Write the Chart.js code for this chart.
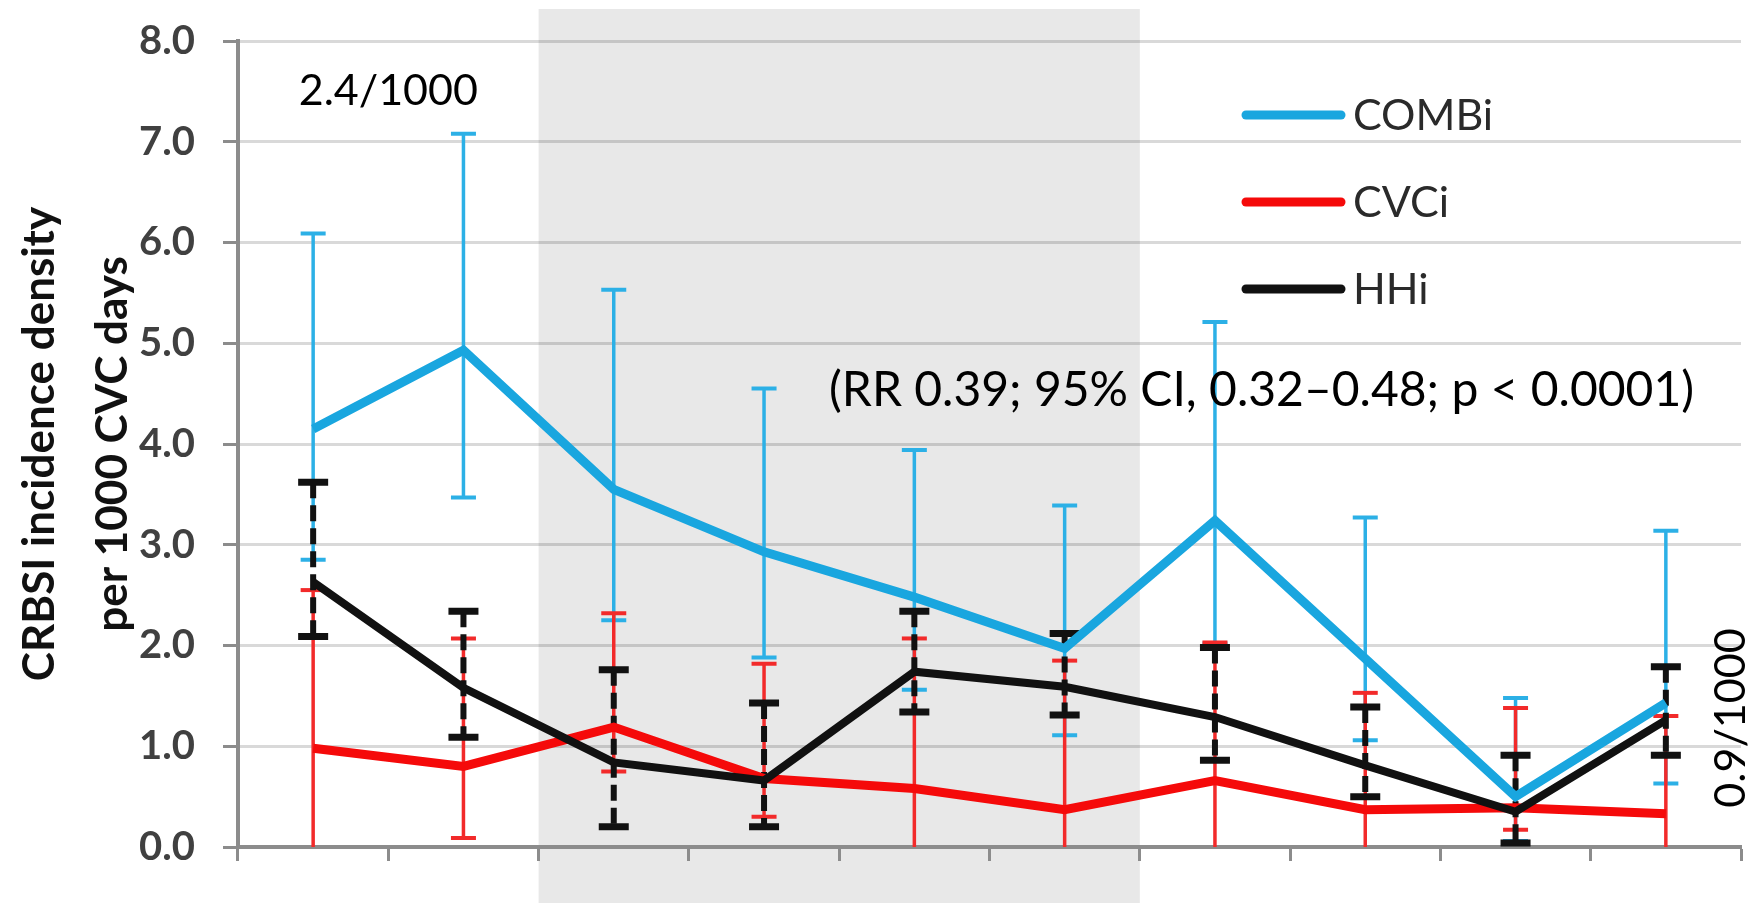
<!DOCTYPE html>
<html>
<head>
<meta charset="utf-8">
<title>CRBSI incidence density</title>
<script src="https://cdn.jsdelivr.net/npm/chart.js@4.4.1/dist/chart.umd.min.js"></script>
<style>
  html, body { margin: 0; padding: 0; background: #ffffff; }
  canvas { display: block; }
</style>
</head>
<body>
<canvas id="chart" width="1754" height="903"></canvas>
<script>
// Study periods (x categories, labels not drawn)
const periods = ['1', '2', '3', '4', '5', '6', '7', '8', '9', '10'];

// Y-axis tick labels (0.0 .. 8.0)
const yTickLabels = ['0.0', '1.0', '2.0', '3.0', '4.0', '5.0', '6.0', '7.0', '8.0'];

// COMBi: incidence density with 95% CI
const combi     = [4.15, 4.93, 3.55, 2.93, 2.48, 1.97, 3.24, 1.87, 0.50, 1.43];
const combiLow  = [2.85, 3.47, 2.25, 1.88, 1.56, 1.11, 2.02, 1.06, 0.06, 0.63];
const combiHigh = [6.09, 7.08, 5.53, 4.55, 3.94, 3.39, 5.21, 3.27, 1.48, 3.14];

// CVCi
const cvci      = [0.98, 0.80, 1.19, 0.68, 0.58, 0.37, 0.66, 0.37, 0.39, 0.33];
const cvciLow   = [0.00, 0.09, 0.75, 0.30, 0.00, 0.00, 0.00, 0.00, 0.17, 0.00];
const cvciHigh  = [2.55, 2.07, 2.32, 1.82, 2.07, 1.85, 2.03, 1.53, 1.38, 1.30];

// HHi
const hhi       = [2.63, 1.58, 0.84, 0.66, 1.74, 1.59, 1.29, 0.81, 0.35, 1.26];
const hhiLow    = [2.09, 1.09, 0.20, 0.20, 1.34, 1.31, 0.86, 0.50, 0.04, 0.91];
const hhiHigh   = [3.62, 2.34, 1.76, 1.43, 2.34, 2.12, 1.98, 1.39, 0.91, 1.79];

// Intervention period (first and last category index, shaded)
const interventionPeriods = [2, 5];

// Annotation texts
const rateBefore = '2.4/1000';
const rateAfter = '0.9/1000';
const rrText = '(RR 0.39; 95% CI, 0.32\u20130.48; p < 0.0001)';

const BLUE = '#19a6df';
const RED = '#f50a0a';
const BLACK = '#111111';
const AXIS = '#8c8c8c';
const GRID = 'rgba(0,0,0,0.15)';
const FONT = 'Lato, "Open Sans", "Liberation Sans", sans-serif';

// White background and the shaded intervention band
const backgroundPlugin = {
  id: 'background',
  beforeDraw(chart) {
    const { ctx, width, height, chartArea, scales: { x } } = chart;
    ctx.save();
    ctx.fillStyle = '#ffffff';
    ctx.fillRect(0, 0, width, height);
    const x0 = x.getPixelForValue(interventionPeriods[0] - 0.5);
    const x1 = x.getPixelForValue(interventionPeriods[1] + 0.5);
    const top = chartArea.top - 32;
    ctx.fillStyle = '#e8e8e8';
    ctx.fillRect(x0, top, x1 - x0, height - top);
    ctx.restore();
  }
};

// Confidence-interval whiskers, drawn underneath the lines
const errorBarPlugin = {
  id: 'errorBars',
  beforeDatasetsDraw(chart) {
    const { ctx, scales: { x, y } } = chart;
    const sets = [
      { low: combiLow, high: combiHigh, color: '#2cb0e6', width: 3.5, cap: 12.5, capWidth: 4, dash: [] },
      { low: cvciLow, high: cvciHigh, color: '#f22a2a', width: 3.5, cap: 12.5, capWidth: 4, dash: [] },
      { low: hhiLow, high: hhiHigh, color: BLACK, width: 6, cap: 15, capWidth: 7, dash: [16, 7] }
    ];
    ctx.save();
    sets.forEach(s => {
      s.low.forEach((lo, i) => {
        const px = x.getPixelForValue(i);
        const yl = y.getPixelForValue(lo);
        const yh = y.getPixelForValue(s.high[i]);
        ctx.strokeStyle = s.color;
        ctx.lineCap = 'butt';
        ctx.lineWidth = s.width;
        ctx.setLineDash(s.dash);
        ctx.beginPath();
        ctx.moveTo(px, yh);
        ctx.lineTo(px, yl);
        ctx.stroke();
        ctx.setLineDash([]);
        ctx.lineWidth = s.capWidth;
        ctx.beginPath();
        ctx.moveTo(px - s.cap, yh);
        ctx.lineTo(px + s.cap, yh);
        if (lo > 0) {
          ctx.moveTo(px - s.cap, yl);
          ctx.lineTo(px + s.cap, yl);
        }
        ctx.stroke();
      });
    });
    ctx.restore();
  }
};

// Legend stacked in the upper right of the plot and the rate annotations
const annotationPlugin = {
  id: 'annotations',
  afterDatasetsDraw(chart) {
    const { ctx, chartArea, scales: { x, y } } = chart;
    ctx.save();

    // legend
    const legendX0 = 1246, legendX1 = 1341, textX = 1353;
    const rows = [115, 202, 289];
    const legendSize = 43;
    chart.data.datasets.forEach((ds, i) => {
      ctx.strokeStyle = ds.borderColor;
      ctx.lineWidth = 9;
      ctx.lineCap = 'round';
      ctx.beginPath();
      ctx.moveTo(legendX0, rows[i]);
      ctx.lineTo(legendX1, rows[i]);
      ctx.stroke();
      ctx.fillStyle = '#2a2a2a';
      ctx.font = `${legendSize}px ${FONT}`;
      ctx.textAlign = 'left';
      ctx.textBaseline = 'alphabetic';
      ctx.fillText(ds.label, textX, rows[i] + legendSize * 0.358);
    });

    const size = 43;
    ctx.fillStyle = '#000000';
    ctx.font = `${size}px ${FONT}`;
    ctx.textBaseline = 'alphabetic';

    // pre-intervention rate
    ctx.textAlign = 'center';
    ctx.fillText(rateBefore, x.getPixelForValue(0.5), y.getPixelForValue(7.52) + size * 0.358);

    // rate ratio
    const rrSize = 48;
    ctx.font = `${rrSize}px ${FONT}`;
    ctx.fillText(rrText, x.getPixelForValue(6.31), y.getPixelForValue(4.55) + rrSize * 0.358);

    // post-intervention rate, rotated along the right edge
    ctx.font = `${size}px ${FONT}`;
    ctx.translate(chartArea.right - 11, y.getPixelForValue(1.28));
    ctx.rotate(-Math.PI / 2);
    ctx.fillText(rateAfter, 0, size * 0.358);
    ctx.restore();
  }
};

const lineStyle = {
  pointRadius: 0,
  pointHoverRadius: 0,
  tension: 0,
  fill: false,
  borderJoinStyle: 'miter',
  borderCapStyle: 'butt'
};

new Chart(document.getElementById('chart'), {
  type: 'line',
  data: {
    labels: periods,
    datasets: [
      { label: 'COMBi', data: combi, borderColor: BLUE, borderWidth: 9, order: 1, ...lineStyle },
      { label: 'CVCi', data: cvci, borderColor: RED, borderWidth: 9, order: 3, ...lineStyle },
      { label: 'HHi', data: hhi, borderColor: BLACK, borderWidth: 8, order: 2, ...lineStyle }
    ]
  },
  options: {
    responsive: false,
    animation: false,
    devicePixelRatio: 1,
    layout: { padding: { top: 41, right: 13, bottom: 42, left: 0 } },
    plugins: {
      legend: { display: false },
      tooltip: { enabled: false },
      title: { display: false }
    },
    scales: {
      x: {
        type: 'category',
        offset: true,
        grid: {
          offset: true,
          drawOnChartArea: false,
          drawTicks: true,
          tickLength: 14,
          tickWidth: 3,
          tickColor: AXIS
        },
        border: { color: AXIS, width: 4 },
        ticks: { display: false }
      },
      y: {
        min: 0,
        max: 8,
        afterFit(scale) {
          scale.width = 238;
          // the outer layout padding already leaves room for the end labels
          scale.paddingTop = 0;
          scale.paddingBottom = 0;
        },
        ticks: {
          stepSize: 1,
          padding: 28,
          color: '#404040',
          font: { family: FONT, size: 40, weight: 'bold' },
          callback: (value, index) => yTickLabels[index]
        },
        grid: {
          color: GRID,
          lineWidth: 3,
          drawTicks: true,
          tickLength: 15,
          tickWidth: 3,
          tickColor: AXIS
        },
        border: { color: AXIS, width: 4 },
        title: {
          display: true,
          text: ['CRBSI incidence density', 'per 1000 CVC days'],
          color: '#111111',
          font: { family: FONT, size: 44, weight: 'bold', lineHeight: 1.66 },
          padding: { top: 3.5, bottom: 0 }
        }
      }
    }
  },
  plugins: [backgroundPlugin, errorBarPlugin, annotationPlugin]
});
</script>
</body>
</html>
